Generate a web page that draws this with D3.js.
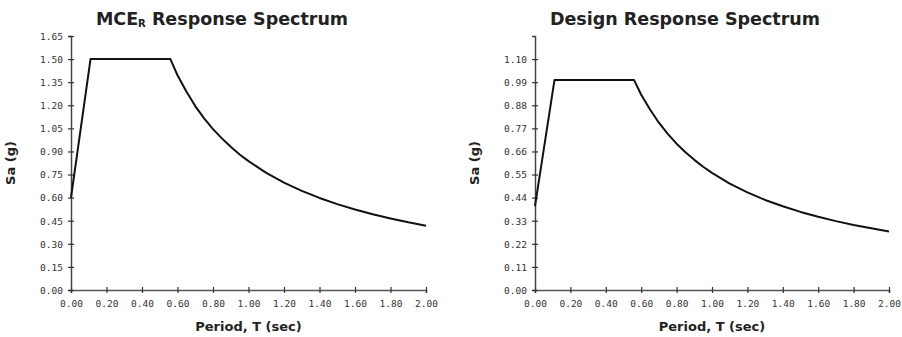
<!DOCTYPE html>
<html>
<head>
<meta charset="utf-8">
<script src="https://cdn.jsdelivr.net/npm/d3@7/dist/d3.min.js"></script>
<style>
  body { margin: 0; background: #fff; }
  svg { display: block; }
  .tick text { font-family: "DejaVu Sans Mono", monospace; font-size: 9.5px; fill: #333; }
  .title { font-family: "DejaVu Sans", sans-serif; font-weight: bold; font-size: 17.5px; fill: #222; }
  .axis-label { font-family: "DejaVu Sans", sans-serif; font-weight: bold; font-size: 13px; fill: #222; }
</style>
</head>
<body>
<svg id="chart" width="902" height="337"></svg>
<script>
// ============================================================
//  Data
// ============================================================

const periods = [0, 0.11, 0.56, 0.60, 0.65, 0.70, 0.75, 0.80, 0.85, 0.90, 0.95, 1.00, 1.10, 1.20, 1.30, 1.40, 1.50, 1.60, 1.70, 1.80, 1.90, 2.00];
const mceSa    = [0.60, 1.50, 1.50, 1.395, 1.29, 1.195, 1.115, 1.045, 0.985, 0.93, 0.88, 0.837, 0.761, 0.698, 0.644, 0.598, 0.558, 0.523, 0.492, 0.465, 0.44, 0.418];
const designSa = [0.40, 1.00, 1.00, 0.93, 0.86, 0.797, 0.744, 0.697, 0.656, 0.62, 0.587, 0.558, 0.507, 0.465, 0.429, 0.399, 0.372, 0.349, 0.328, 0.31, 0.294, 0.279];

const xTicks = [0, 0.2, 0.4, 0.6, 0.8, 1.0, 1.2, 1.4, 1.6, 1.8, 2.0];
const mceYTicks = [0, 0.15, 0.30, 0.45, 0.60, 0.75, 0.90, 1.05, 1.20, 1.35, 1.50, 1.65];
const designYTicks = [0, 0.11, 0.22, 0.33, 0.44, 0.55, 0.66, 0.77, 0.88, 0.99, 1.10];

// ============================================================
//  Panels
// ============================================================

const svg = d3.select('#chart');

function drawPanel(opts) {
  const g = svg.append('g').attr('transform', `translate(${opts.left}, 0)`);
  const x = d3.scaleLinear().domain([0, 2]).range([0, opts.width]);
  const y = d3.scaleLinear().domain([0, opts.yMax]).range([290, 36]);

  // title
  const title = g.append('text').attr('class', 'title')
    .attr('x', opts.titleX).attr('y', 25).attr('text-anchor', 'middle');
  title.append('tspan').text(opts.title);
  if (opts.sub) {
    title.append('tspan').attr('font-size', '10px').attr('dy', 2).text(opts.sub);
    title.append('tspan').attr('dy', -2).text(opts.title2);
  }

  // axes: ticks cross the axis line
  const xAxis = g.append('g').attr('transform', 'translate(0, 290)')
    .call(d3.axisBottom(x).tickValues(xTicks).tickFormat(d3.format('.2f')).tickSize(3).tickPadding(7));
  xAxis.selectAll('.tick line').attr('y1', -3).attr('stroke', '#333').attr('stroke-width', 1.2);
  xAxis.select('.domain').attr('stroke', '#555').attr('stroke-width', 1.5);

  const yAxis = g.append('g')
    .call(d3.axisLeft(y).tickValues(opts.yTicks).tickFormat(d3.format('.2f')).tickSize(3).tickPadding(5));
  yAxis.selectAll('.tick line').attr('x1', 3).attr('x2', -3).attr('stroke', '#333').attr('stroke-width', 1.2);
  yAxis.select('.domain').attr('stroke', '#444').attr('stroke-width', 1.5);
  yAxis.selectAll('.tick text').attr('dy', '0.35em');

  // axis titles
  g.append('text').attr('class', 'axis-label')
    .attr('x', opts.width / 2).attr('y', 331).attr('text-anchor', 'middle')
    .text('Period, T (sec)');
  g.append('text').attr('class', 'axis-label')
    .attr('transform', `translate(${opts.yLabelX}, 163) rotate(-90)`)
    .attr('text-anchor', 'middle')
    .text('Sa (g)');

  // spectrum
  const pts = periods.map((t, i) => [t, opts.values[i]]);
  g.append('path').datum(pts)
    .attr('fill', 'none').attr('stroke', '#111').attr('stroke-width', 2)
    .attr('stroke-linejoin', 'round')
    .attr('d', d3.line().x(d => x(d[0])).y(d => y(d[1])));
}

drawPanel({
  left: 71, width: 355, yMax: 1.65, yTicks: mceYTicks, values: mceSa,
  title: 'MCE', sub: 'R', title2: ' Response Spectrum', titleX: 151, yLabelX: -56
});
drawPanel({
  left: 535, width: 354, yMax: 1.21, yTicks: designYTicks, values: designSa,
  title: 'Design Response Spectrum', titleX: 150, yLabelX: -56
});
</script>
</body>
</html>
